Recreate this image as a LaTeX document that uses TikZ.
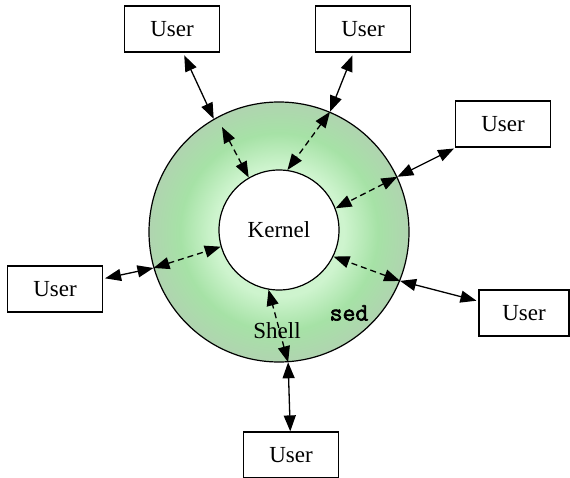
\documentclass[tikz,border=0pt]{standalone}
\usepackage{fontspec}
\setmainfont{Liberation Serif}
\newfontfamily\sedfont[FakeBold=2.5]{Latin Modern Mono}
\usetikzlibrary{arrows.meta}
\definecolor{ringlight}{RGB}{206,244,206}
\definecolor{ringmid}{RGB}{166,226,166}
\definecolor{ringdark}{RGB}{176,212,176}
\pgfdeclareradialshading{ringshade}{\pgfpoint{0bp}{0bp}}{color(0bp)=(ringlight); color(12.5bp)=(ringlight); color(19bp)=(ringmid); color(25bp)=(ringdark); color(50bp)=(ringdark)}
\begin{document}
\begin{tikzpicture}[x=1pt,y=-1pt,
  userbox/.style={draw, line width=1.2pt, minimum width=95pt, minimum height=46pt, inner sep=0pt, font=\fontsize{23}{27}\selectfont},
  link/.style={line width=1.3pt, {Triangle[length=16pt,width=12pt]}-{Triangle[length=16pt,width=12pt]}},
  dlink/.style={link, dash pattern=on 6pt off 4pt},
  lbl/.style={font=\fontsize{23}{27}\selectfont, inner sep=0pt}]
\useasboundingbox (0,0) rectangle (570,478);
\node[circle, draw, line width=1.2pt, minimum size=260pt, inner sep=0pt, shade, shading=ringshade] (shell) at (279,232) {};
\node[circle, draw, fill=white, line width=1.2pt, minimum size=120pt, inner sep=0pt, lbl] (kernel) at (279,230) {Kernel};
\node[lbl] (shelltxt) at (277,331) {Shell};
\node[font=\fontsize{25}{29}\sedfont, inner sep=0pt] (sed) at (349,313) {sed};
\node[userbox] (u1) at (172,29) {User};
\node[userbox] (u2) at (363,29) {User};
\node[userbox] (u3) at (503,124) {User};
\node[userbox] (u4) at (55,289) {User};
\node[userbox, minimum width=90pt] (u5) at (524,313) {User};
\node[userbox] (u6) at (291,455) {User};
\coordinate (d1) at (222,127);
% solid links user <-> shell
\draw[link, shorten <=3pt] (u1) -- (shell.120);
\draw[link, shorten <=3pt] (u2) -- (shell.67);
\draw[link, shorten <=2pt] (u3) -- (shell.25);
\draw[link, shorten <=2pt] (u4) -- (shell.196);
\draw[link, shorten <=2pt] (u5) -- (shell.-22.6);
\draw[link] (u6) -- (shell.274);
% dashed links shell <-> kernel
\draw[dlink] (d1) -- (kernel.120);
\draw[dlink] (shell.67) -- (kernel.82);
\draw[dlink] (shell.25) -- (kernel.21);
\draw[dlink] (shell.196) -- (kernel.196);
\draw[dlink] (shell.-22.6) -- (kernel.-26);
\draw[dlink] (shell.274) -- (kernel.260);
\end{tikzpicture}
\end{document}
